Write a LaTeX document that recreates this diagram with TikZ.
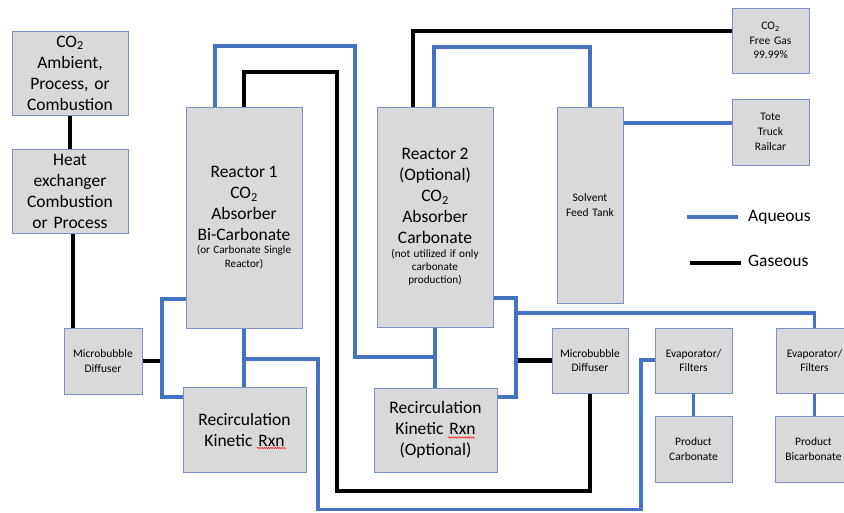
\documentclass[tikz,border=0pt]{standalone}
\usepackage{fontspec}
\setmainfont{Carlito}
\usetikzlibrary{decorations.pathmorphing}
\definecolor{aqblue}{RGB}{68,114,196}
\definecolor{boxfill}{RGB}{217,217,217}
\definecolor{boxedge}{RGB}{120,144,196}
\newcommand\bigf{\fontsize{17.5}{21}\selectfont}
\newcommand\smallf{\fontsize{11.2}{13.4}\selectfont}
\newcommand\medf{\fontsize{11.5}{14.7}\selectfont}
\frenchspacing
\pgfdeclarelayer{bg}
\pgfsetlayers{bg,main}
\begin{document}
\begin{tikzpicture}[x=1pt,y=-1pt,
  box/.style={draw=boxedge, fill=boxfill, line width=0.9pt, inner sep=0pt, align=center,
    execute at begin node={\setlength{\parindent}{0pt}\setlength{\parskip}{0pt}\frenchspacing}},
  bx/.style n args={2}{box, minimum width=#1, text width=#1, minimum height=#2},
  aq/.style={draw=aqblue, line width=3.8pt},
  gas/.style={draw=black, line width=4.2pt},
  legtext/.style={anchor=west, font=\bigf, inner sep=0pt},
  spell/.style={draw=red, line width=0.45pt, decorate, decoration={snake, amplitude=0.7pt, segment length=2.2pt}}]
\clip (0,0) rectangle (844,512);
% boxes
\node[bx={116}{84}, font=\bigf] (src) at (70,73) {CO\textsubscript{2}\\Ambient,\\Process, or\\Combustion};
\node[bx={116}{84}, font=\bigf] (hx) at (70,191) {Heat\\exchanger\\Combustion\\or Process};
\node[bx={78}{66}, font=\medf] (md1) at (103,361) {Microbubble\\Diffuser};
\node[bx={116}{221}] (r1) at (244,217.5) {\bigf Reactor 1\\CO\textsubscript{2}\\Absorber\\Bi-Carbonate\par\smallf (or Carbonate Single\\Reactor)\par};
\node[bx={123}{85}, font=\bigf] (rc1) at (244.5,429.5) {Recirculation\\Kinetic Rxn};
\node[bx={116}{220}] (r2) at (435,217) {\bigf Reactor 2\\(Optional)\\CO\textsubscript{2}\\Absorber\\Carbonate\par\smallf (not utilized if only\\carbonate\\production)\par};
\node[bx={123}{84}, font=\bigf] (rc2) at (435.5,430) {Recirculation\\Kinetic Rxn\\(Optional)};
\node[bx={66}{196}, font=\medf] (tank) at (590,205) {Solvent\\Feed Tank};
\node[bx={77}{65}, font=\medf] (gas) at (770.5,40.5) {CO\textsubscript{2}\\Free Gas\\99.99\%};
\node[bx={77}{66}, font=\medf] (tote) at (770.5,132) {Tote\\Truck\\Railcar};
\node[bx={76}{65}, font=\medf] (md2) at (590,360.5) {Microbubble\\Diffuser};
\node[bx={77}{65}, font=\medf] (ev1) at (693.5,360.5) {Evaporator/\\Filters};
\node[bx={77}{66}, font=\medf] (pc) at (693.5,449) {Product\\Carbonate};
\node[bx={77}{65}, font=\medf] (ev2) at (814.5,360.5) {Evaporator/\\Filters};
\node[bx={77}{66}, font=\medf] (pb) at (813.5,449) {Product\\Bicarbonate};
% legend
\coordinate (la1) at (687,217); \coordinate (la2) at (738,217);
\coordinate (lg1) at (690,263); \coordinate (lg2) at (741,263);
\node[legtext] (laq) at (748,217) {Aqueous};
\node[legtext] (lgs) at (748,261) {Gaseous};
% junctions
\coordinate (j1) at (162,361);
\coordinate (j2) at (516,360.5);
\coordinate (j3) at (516,313);
% spell-check marks
\draw[spell] ([shift={(12.5,18.5)}]rc1.center) -- ([shift={(41.5,18.5)}]rc1.center);
\draw[spell] ([shift={(12.5,7.5)}]rc2.center) -- ([shift={(39.5,7.5)}]rc2.center);
\begin{pgfonlayer}{bg}
% gaseous
\draw[gas] (src) -- (hx);
\draw[gas] (hx.south -| 73,0) -- (md1.north -| 73,0);
\draw[gas] (md1.east) -- (j1);
\draw[gas] (r1.north) |- (337,72) -- (337,491) -| (md2.south);
\draw[gas] (r2.north -| 413,0) |- (gas.west |- 0,31);
\draw[gas] (md2.west) -- (j2);
\draw[gas] (lg1) -- (lg2);
% aqueous
\draw[aq] (r1.west |- 0,299) -| (162,397) -- (rc1.west |- 0,397);
\draw[aq] (r1.south) -- (rc1.north -| r1.south);
\draw[aq] (r1.south |- 0,359) -| (318,509.5) -| (641,360) -- (ev1.west |- 0,360);
\draw[aq] (r1.north -| 215,0) |- (355,46) -- (355,357) -- (r2.south |- 0,357);
\draw[aq] (r2.south) -- (rc2.north -| r2.south);
\draw[aq] (r2.north -| 434,0) |- (tank.north |- 0,47) -- (tank.north);
\draw[aq] (r2.east |- 0,298) -| (516,397) -- (rc2.east |- 0,397);
\draw[aq] (j3) -| (ev2.north);
\draw[aq] (tank.east |- 0,123) -- (tote.west |- 0,123);
\draw[aq] (ev1) -- (pc);
\draw[aq] (ev2.south) -- (pb.north -| ev2.south);
\draw[aq] (la1) -- (la2);
\end{pgfonlayer}
\end{tikzpicture}
\end{document}
